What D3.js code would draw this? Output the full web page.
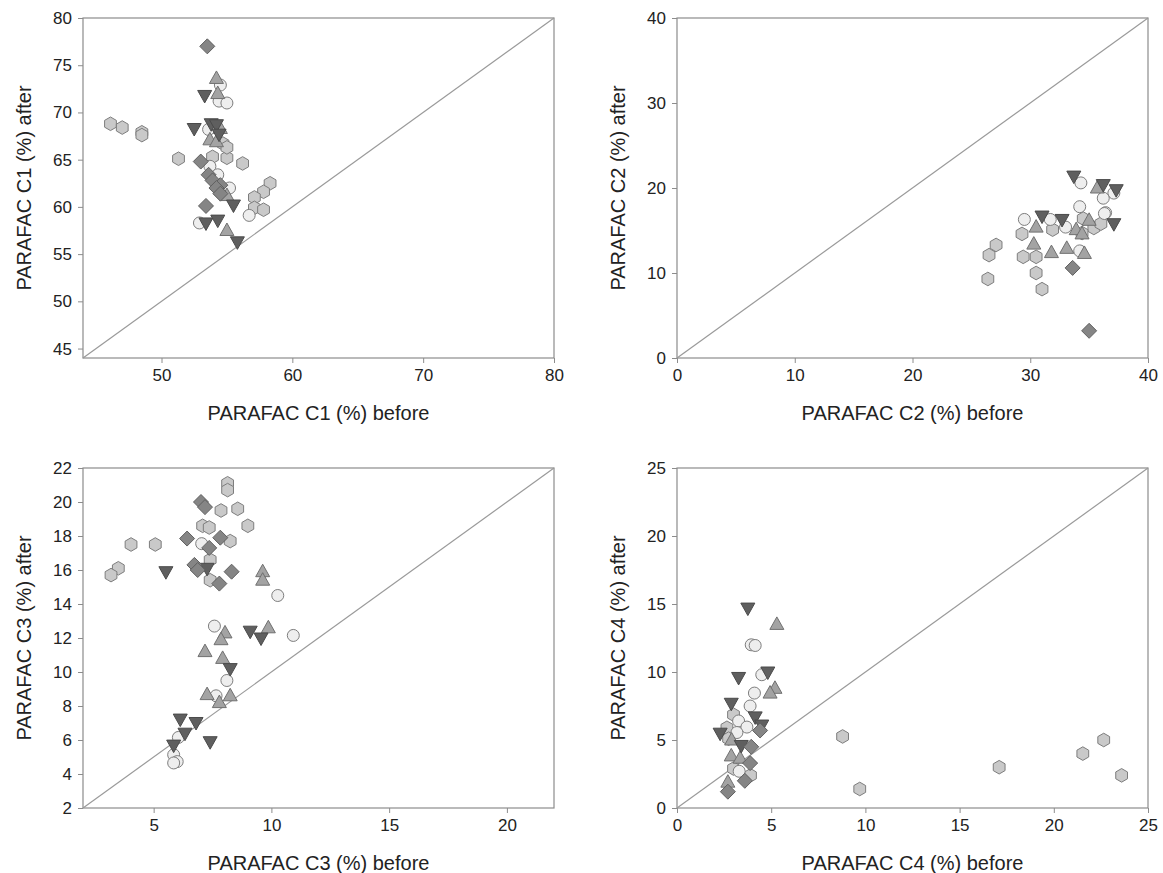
<!DOCTYPE html>
<html>
<head>
<meta charset="utf-8">
<title>PARAFAC components before / after</title>
<script src="https://cdnjs.cloudflare.com/ajax/libs/d3/7.8.5/d3.min.js"></script>
<style>
  body { margin: 0; background: #fff; }
  svg { display: block; font-family: "Liberation Sans", Arial, sans-serif; }
  .tick text { font-size: 17px; fill: #222; }
  .axis-title { font-size: 20px; fill: #222; }
</style>
</head>
<body>
<svg width="1163" height="873"></svg>
<script>
// ---- data: [before, after] pairs grouped by marker type ----
const c1Hex = [[46.1,68.8],[47.0,68.4],[48.5,67.9],[48.5,67.6],[51.3,65.1],[53.9,65.3],[55.0,65.2],[56.2,64.6],[54.7,66.7],[55.0,66.3],[58.3,62.5],[57.8,61.6],[57.1,61.0],[57.1,59.9],[57.8,59.7]];
const c1Circle = [[54.5,72.9],[54.4,71.2],[55.0,71.0],[53.6,68.2],[53.7,64.3],[54.3,63.4],[55.2,62.0],[56.7,59.1],[52.9,58.3]];
const c1Up = [[54.2,73.6],[54.3,72.0],[54.5,68.3],[53.7,67.1],[54.2,66.9],[55.0,61.2],[55.0,57.5]];
const c1Down = [[53.3,71.8],[52.5,68.3],[53.8,68.8],[54.2,68.7],[54.4,67.7],[55.5,60.2],[53.4,58.3],[54.3,58.6],[55.8,56.3]];
const c1Diamond = [[53.5,77.0],[53.0,64.8],[53.6,63.4],[53.9,62.8],[54.5,62.3],[54.2,62.0],[54.5,61.4],[53.4,60.1]];

const c2Hex = [[34.5,16.4],[35.4,15.3],[36.0,15.8],[31.9,15.1],[29.3,14.6],[27.1,13.3],[26.5,12.1],[29.4,11.9],[30.5,11.9],[30.5,10.0],[26.4,9.3],[31.0,8.1],[34.4,14.7]];
const c2Circle = [[34.3,20.6],[37.1,19.4],[36.2,18.8],[34.2,17.8],[36.4,17.1],[29.5,16.3],[31.7,16.3],[33.0,15.4],[34.2,12.6],[36.3,17.0]];
const c2Up = [[35.7,20.0],[35.0,16.2],[30.5,15.4],[33.9,15.1],[34.4,14.6],[30.3,13.4],[31.8,12.4],[33.1,12.9],[34.6,12.3]];
const c2Down = [[33.7,21.4],[36.2,20.4],[37.3,19.8],[37.1,15.8],[31.0,16.7],[32.7,16.3]];
const c2Diamond = [[33.6,10.6],[35.0,3.2]];

const c3Hex = [[8.14,21.1],[8.14,20.7],[7.86,19.5],[8.57,19.6],[7.08,18.6],[7.36,18.5],[9.0,18.6],[8.25,17.7],[4.04,17.5],[5.07,17.5],[7.4,16.6],[3.5,16.1],[3.19,15.7],[7.4,15.4]];
const c3Circle = [[7.04,17.55],[10.27,14.5],[7.58,12.7],[10.93,12.15],[8.11,9.5],[7.65,8.6],[6.05,6.15],[5.85,5.13],[6.0,4.73],[5.85,4.65]];
const c3Up = [[9.63,15.9],[9.63,15.4],[8.03,12.3],[7.86,11.9],[9.87,12.6],[7.18,11.2],[7.93,10.8],[7.27,8.67],[7.79,8.2],[8.25,8.6]];
const c3Down = [[5.52,15.9],[7.27,16.1],[9.1,12.4],[9.56,12.0],[8.25,10.2],[6.13,7.23],[6.8,7.03],[6.33,6.4],[5.85,5.7],[7.4,5.9]];
const c3Diamond = [[7.01,20.0],[7.18,19.7],[6.42,17.85],[7.83,17.9],[7.36,17.3],[6.73,16.3],[6.87,16.0],[8.31,15.9],[7.79,15.2]];

const c4Hex = [[3.0,6.86],[2.65,5.9],[2.74,5.1],[8.79,5.26],[22.65,5.0],[21.54,4.0],[17.1,3.0],[9.7,1.4],[23.6,2.4],[3.9,2.4],[3.0,2.9]];
const c4Circle = [[3.94,12.0],[4.15,11.95],[4.5,9.8],[4.11,8.45],[3.88,7.5],[3.27,6.4],[3.71,5.95],[3.18,5.55],[3.3,2.7]];
const c4Up = [[5.3,13.5],[5.2,8.8],[4.94,8.45],[2.88,3.83],[3.35,3.66],[2.7,1.9],[2.9,5.0]];
const c4Down = [[3.76,14.7],[3.27,9.6],[4.82,10.0],[2.88,7.7],[4.15,6.7],[4.5,6.1],[2.29,5.5],[3.41,4.6]];
const c4Diamond = [[4.41,5.7],[3.94,4.5],[3.88,3.3],[2.7,1.2],[3.6,2.0]];

const c1Ticks = [45,50,55,60,65,70,75,80], c1XTicks = [50,60,70,80];
const c2Ticks = [0,10,20,30,40];
const c3YTicks = [2,4,6,8,10,12,14,16,18,20,22], c3XTicks = [5,10,15,20];
const c4Ticks = [0,5,10,15,20,25];

const panels = [
  { name: "C1", domain: [44,80], xt: c1XTicks, yt: c1Ticks, x: 83, y: 18,
    sets: { hex: c1Hex, circle: c1Circle, up: c1Up, down: c1Down, diamond: c1Diamond } },
  { name: "C2", domain: [0,40], xt: c2Ticks, yt: c2Ticks, x: 677, y: 18,
    sets: { hex: c2Hex, circle: c2Circle, up: c2Up, down: c2Down, diamond: c2Diamond } },
  { name: "C3", domain: [2,22], xt: c3XTicks, yt: c3YTicks, x: 83, y: 468,
    sets: { hex: c3Hex, circle: c3Circle, up: c3Up, down: c3Down, diamond: c3Diamond } },
  { name: "C4", domain: [0,25], xt: c4Ticks, yt: c4Ticks, x: 677, y: 468,
    sets: { hex: c4Hex, circle: c4Circle, up: c4Up, down: c4Down, diamond: c4Diamond } }
];

const W = 471, H = 340;

// marker look
const styles = {
  hex:     { fill: "#c9c9c9", stroke: "#7d7d7d" },
  circle:  { fill: "#eeeeee", stroke: "#7d7d7d" },
  up:      { fill: "#a3a3a3", stroke: "#707070" },
  down:    { fill: "#5f5f5f", stroke: "#4a4a4a" },
  diamond: { fill: "#858585", stroke: "#606060" }
};

function shape(type) {
  if (type === "circle") return "M6,0A6,6 0 1,1 -6,0A6,6 0 1,1 6,0Z";
  if (type === "hex") {
    let r = 6.8, p = [];
    for (let i = 0; i < 6; i++) {
      let a = Math.PI / 3 * i - Math.PI / 2;
      p.push([r * Math.cos(a), r * Math.sin(a)]);
    }
    return "M" + p.join("L") + "Z";
  }
  if (type === "up") return "M0,-7.5L7,5L-7,5Z";
  if (type === "down") return "M0,7.5L7,-5L-7,-5Z";
  return "M0,-7.5L7.5,0L0,7.5L-7.5,0Z";
}

const svg = d3.select("svg");

panels.forEach(p => {
  const g = svg.append("g").attr("transform", `translate(${p.x},${p.y})`);
  const x = d3.scaleLinear().domain(p.domain).range([0, W]);
  const y = d3.scaleLinear().domain(p.domain).range([H, 0]);

  // frame
  g.append("rect").attr("width", W).attr("height", H)
    .attr("fill", "none").attr("stroke", "#8c8c8c").attr("stroke-width", 1.2);

  const xa = g.append("g").attr("transform", `translate(0,${H})`)
    .call(d3.axisBottom(x).tickValues(p.xt).tickSize(5).tickPadding(6));
  const ya = g.append("g")
    .call(d3.axisLeft(y).tickValues(p.yt).tickSize(5).tickPadding(6));
  [xa, ya].forEach(a => {
    a.select(".domain").remove();
    a.selectAll("line").attr("stroke", "#8c8c8c");
  });

  // 1:1 line
  g.append("line")
    .attr("x1", x(p.domain[0])).attr("y1", y(p.domain[0]))
    .attr("x2", x(p.domain[1])).attr("y2", y(p.domain[1]))
    .attr("stroke", "#9a9a9a").attr("stroke-width", 1.2);

  ["hex", "circle", "up", "down", "diamond"].forEach(t => {
    g.selectAll("path.m-" + t).data(p.sets[t]).join("path")
      .attr("class", "m-" + t)
      .attr("d", shape(t))
      .attr("transform", d => `translate(${x(d[0])},${y(d[1])})`)
      .attr("fill", styles[t].fill)
      .attr("stroke", styles[t].stroke)
      .attr("stroke-width", 1);
  });

  g.append("text").attr("class", "axis-title")
    .attr("x", W / 2).attr("y", H + 62)
    .attr("text-anchor", "middle")
    .text(`PARAFAC ${p.name} (%) before`);
  g.append("text").attr("class", "axis-title")
    .attr("transform", `translate(-52,${H / 2}) rotate(-90)`)
    .attr("text-anchor", "middle")
    .text(`PARAFAC ${p.name} (%) after`);
});
</script>
</body>
</html>
